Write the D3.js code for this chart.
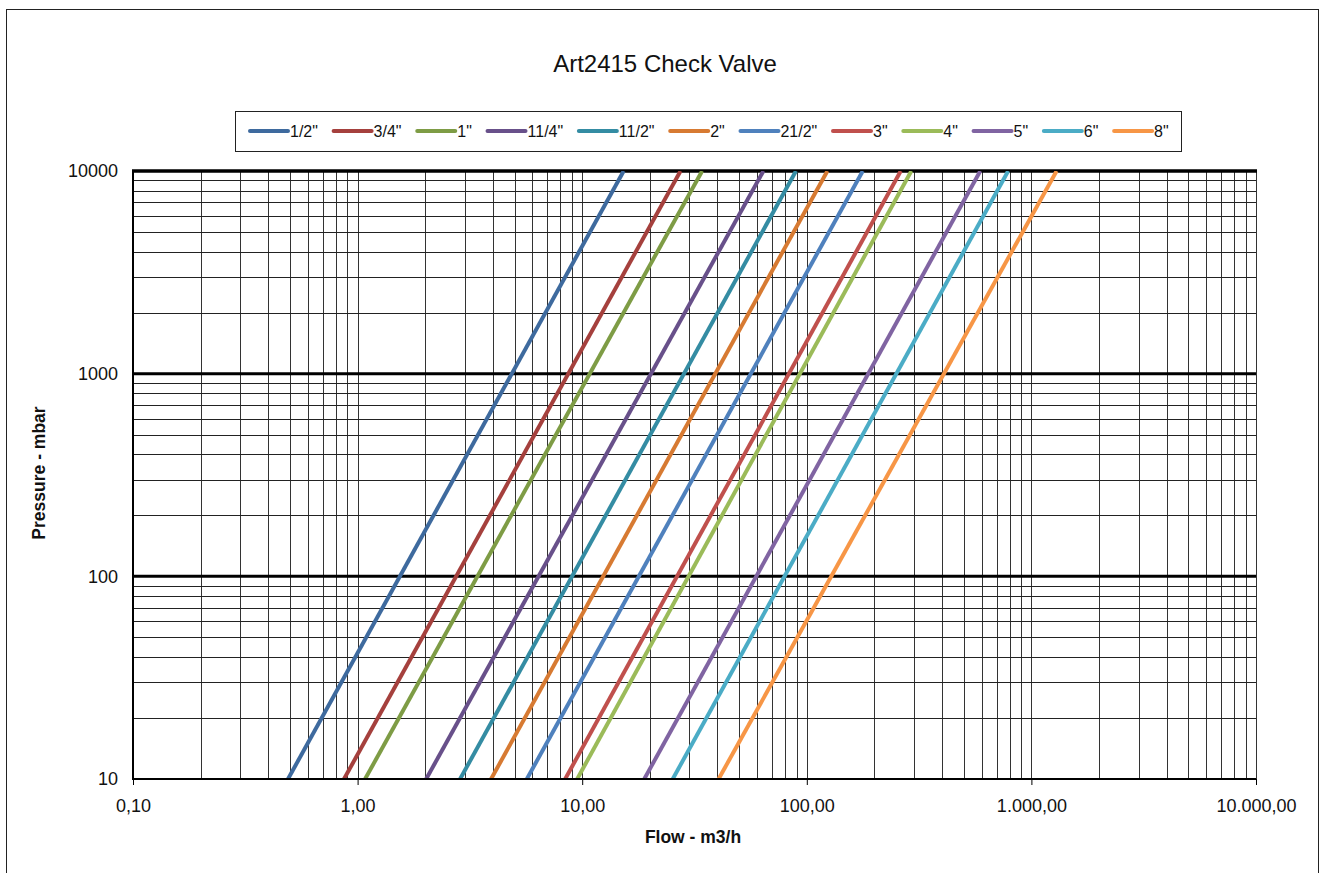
<!DOCTYPE html>
<html><head><meta charset="utf-8">
<script src="https://cdn.jsdelivr.net/npm/d3@7"></script>
<style>body{margin:0;background:#fff;font-family:"Liberation Sans",Arial,sans-serif;}</style>
</head><body>
<svg id="c" width="1325" height="873"></svg>
<script>
// Series (valve sizes)
const series = ['1/2"', '3/4"', '1"', '11/4"', '11/2"', '2"', '21/2"', '3"', '4"', '5"', '6"', '8"'];
const colors = ["#3E6A9E", "#A5403D", "#7E9C45", "#68508A", "#348CA3", "#D77A32",
                "#4F81BD", "#C0504D", "#9BBB59", "#8064A2", "#4BACC6", "#F79646"];
// Pressure values at the two ends of each line (mbar)
const pressureEnds = [10, 10000];
// Flow (m3/h) read at 10 mbar and at 10000 mbar
const flowAt10 = [0.49, 0.87, 1.08, 2.02, 2.86, 3.93, 5.67, 8.4, 9.5, 18.9, 25.3, 40.5];
const flowAt10000 = [15.3, 27.4, 34.2, 64.1, 89.5, 123.5, 177.5, 262, 292, 592, 788, 1295];
const xTickValues = [0.1, 1, 10, 100, 1000, 10000];
const xTickLabels = ["0,10", "1,00", "10,00", "100,00", "1.000,00", "10.000,00"];
const yTickValues = [10, 100, 1000, 10000];
const yTickLabels = ["10", "100", "1000", "10000"];

const FONT = "'Liberation Sans',Arial,sans-serif";
const svg = d3.select("#c");
const L = 133, R = 1256, T = 171, B = 779;
const x = d3.scaleLog().domain([0.1, 10000]).range([L, R]);
const y = d3.scaleLog().domain([10, 10000]).range([B, T]);

// outer border
svg.append("rect").attr("x", 6.5).attr("y", 9.5).attr("width", 1312).attr("height", 880)
  .attr("fill", "none").attr("stroke", "#222").attr("stroke-width", 1);

// title
svg.append("text").attr("x", 665).attr("y", 72).attr("text-anchor", "middle")
  .attr("font-family", FONT).attr("font-size", 24).attr("fill", "#111").text("Art2415 Check Valve");

// grid: vertical minor/major
const xGrid = [];
for (let d = 0.1; d < 10000; d *= 10) for (let k = 1; k < 10; k++) xGrid.push(+(d * k).toPrecision(3));
xGrid.push(10000);
svg.append("g").selectAll("line").data(xGrid).join("line")
  .attr("x1", d => Math.round(x(d)) + 0.5).attr("x2", d => Math.round(x(d)) + 0.5)
  .attr("y1", T).attr("y2", B).attr("stroke", "#333").attr("stroke-width", 1);

const yGrid = [];
for (let d = 10; d < 10000; d *= 10) for (let k = 2; k < 10; k++) yGrid.push(d * k);
svg.append("g").selectAll("line").data(yGrid.filter(v => v !== 100 && v !== 1000)).join("line")
  .attr("x1", L).attr("x2", R)
  .attr("y1", d => Math.round(y(d)) + 0.5).attr("y2", d => Math.round(y(d)) + 0.5)
  .attr("stroke", "#222").attr("stroke-width", 1);
// major horizontals
svg.append("g").selectAll("line").data([100, 1000]).join("line")
  .attr("x1", L).attr("x2", R)
  .attr("y1", d => y(d)).attr("y2", d => y(d))
  .attr("stroke", "#000").attr("stroke-width", 3);
svg.append("line").attr("x1", L - 1).attr("x2", R + 1).attr("y1", y(10000)).attr("y2", y(10000))
  .attr("stroke", "#000").attr("stroke-width", 3.5);

// series lines
svg.append("clipPath").attr("id", "pc").append("rect")
  .attr("x", L).attr("y", T).attr("width", R - L).attr("height", B - T);
const line = d3.line().x(d => x(d[0])).y(d => y(d[1]));
svg.append("g").attr("clip-path", "url(#pc)").selectAll("path").data(series).join("path")
  .attr("d", (s, i) => line([[flowAt10[i], pressureEnds[0]], [flowAt10000[i], pressureEnds[1]]]))
  .attr("fill", "none").attr("stroke", (s, i) => colors[i]).attr("stroke-width", 4);

// axes
const xAxis = d3.axisBottom(x).tickValues(xTickValues).tickFormat((d, i) => xTickLabels[i])
  .tickSize(6).tickPadding(14);
const gx = svg.append("g").attr("transform", `translate(0,${B})`).call(xAxis);
gx.select(".domain").attr("stroke", "#000").attr("stroke-width", 2).attr("d", `M${L - 1},0H${R}`);
gx.selectAll(".tick line").attr("stroke", "#000");
gx.selectAll("text").attr("font-size", 18).attr("fill", "#111").attr("font-family", FONT);

const yAxis = d3.axisLeft(y).tickValues(yTickValues).tickFormat((d, i) => yTickLabels[i])
  .tickSize(0).tickPadding(15);
const gy = svg.append("g").attr("transform", `translate(${L},0)`).call(yAxis);
gy.select(".domain").attr("stroke", "#000").attr("stroke-width", 2).attr("d", `M0,${T - 1}V${B}`);
gy.selectAll("text").attr("font-size", 18).attr("fill", "#111").attr("font-family", FONT);

// axis titles
svg.append("text").attr("x", 693).attr("y", 843).attr("text-anchor", "middle")
  .attr("font-family", FONT).attr("font-size", 17.5).attr("font-weight", "bold").attr("fill", "#111")
  .text("Flow - m3/h");
svg.append("text").attr("transform", "translate(45,473) rotate(-90)").attr("text-anchor", "middle")
  .attr("font-family", FONT).attr("font-size", 17.5).attr("font-weight", "bold").attr("fill", "#111")
  .text("Pressure - mbar");

// legend
const lg = svg.append("g");
lg.append("rect").attr("x", 235.5).attr("y", 111.5).attr("width", 946).attr("height", 40)
  .attr("fill", "#fff").attr("stroke", "#222").attr("stroke-width", 1);
let lx = 250;
series.forEach((s, i) => {
  const g = lg.append("g");
  g.append("line").attr("x1", lx).attr("x2", lx + 38).attr("y1", 131).attr("y2", 131)
    .attr("stroke", colors[i]).attr("stroke-width", 4).attr("stroke-linecap", "round");
  const t = g.append("text").attr("x", lx + 40).attr("y", 137).attr("font-size", 16)
    .attr("font-family", FONT).attr("fill", "#111").text(s);
  lx = lx + 40 + t.node().getComputedTextLength() + 15.7;
});
</script>
</body></html>
